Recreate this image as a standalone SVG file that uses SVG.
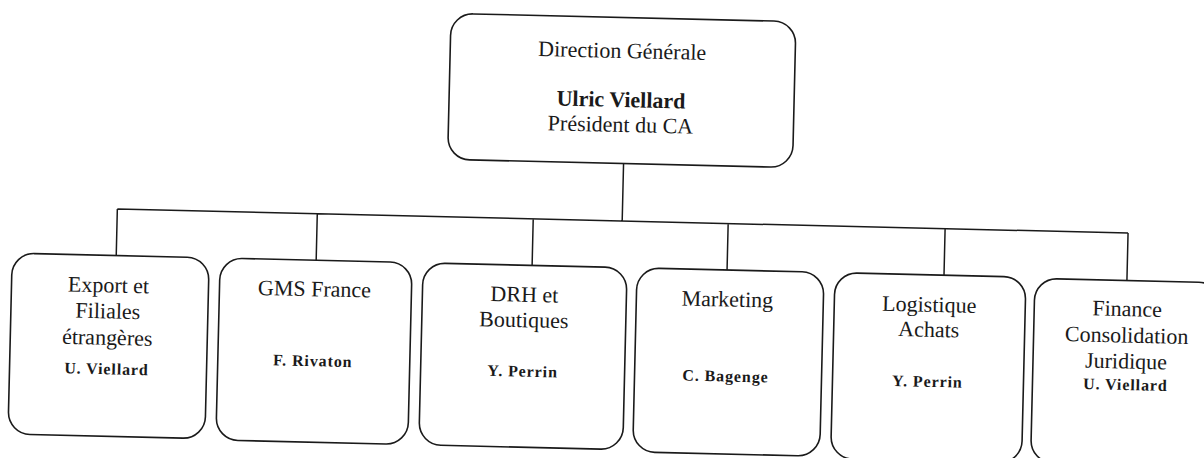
<svg xmlns="http://www.w3.org/2000/svg" width="1204" height="458" viewBox="0 0 1204 458">
<style>
.box{fill:#fff;stroke:#1a1a1a;stroke-width:1.6}
.ln{fill:none;stroke:#1a1a1a;stroke-width:1.5}
.t{font-family:"Liberation Serif","Times New Roman",serif;font-size:22px;fill:#1a1a1a;text-anchor:middle}
.b{font-weight:bold}
.s{font-family:"Liberation Serif","Times New Roman",serif;font-size:16px;font-weight:bold;letter-spacing:0.9px;fill:#1a1a1a;text-anchor:middle}
</style>
<rect width="1204" height="458" fill="#fff"/>
<g transform="rotate(1.36 600 229)">
<g id="connectors">
<path class="ln" d="M622 163V220.5M117 220.5H1128M117 220.5V267M317 220.5V267M533 220.5V267M728 220.5V267M945 220.5V267M1128 220.5V268"/>
</g>
<g id="direction">
<rect class="box" x="446" y="17" width="345" height="146" rx="22"/>
<text class="t" x="618" y="57.5">Direction Générale</text>
<text class="t b" x="618" y="106.5">Ulric Viellard</text>
<text class="t" x="618" y="131.5">Président du CA</text>
</g>
<g id="export">
<rect class="box" x="13" y="267" width="197" height="181" rx="22"/>
<text class="t" x="110" y="304">Export et</text>
<text class="t" x="110" y="330">Filiales</text>
<text class="t" x="110" y="356.5">étrangères</text>
<text class="s" x="110" y="386">U. Viellard</text>
</g>
<g id="gms">
<rect class="box" x="221" y="267" width="192" height="182" rx="22"/>
<text class="t" x="316" y="303">GMS France</text>
<text class="s" x="316" y="373">F. Rivaton</text>
</g>
<g id="drh">
<rect class="box" x="424" y="267" width="204" height="182" rx="22"/>
<text class="t" x="526" y="303.5">DRH et</text>
<text class="t" x="526" y="329">Boutiques</text>
<text class="s" x="526" y="378.5">Y. Perrin</text>
</g>
<g id="marketing">
<rect class="box" x="638" y="267" width="187" height="184" rx="22"/>
<text class="t" x="729" y="303.5">Marketing</text>
<text class="s" x="729" y="378.5">C. Bagenge</text>
</g>
<g id="logistique">
<rect class="box" x="836" y="267" width="191" height="186" rx="22"/>
<text class="t" x="931" y="304">Logistique</text>
<text class="t" x="931" y="329">Achats</text>
<text class="s" x="931" y="379">Y. Perrin</text>
</g>
<g id="finance">
<rect class="box" x="1036" y="268" width="186" height="184" rx="22"/>
<text class="t" x="1129" y="303.5">Finance</text>
<text class="t" x="1129" y="330">Consolidation</text>
<text class="t" x="1129" y="356">Juridique</text>
<text class="s" x="1129" y="377.5">U. Viellard</text>
</g>
</g>
</svg>
